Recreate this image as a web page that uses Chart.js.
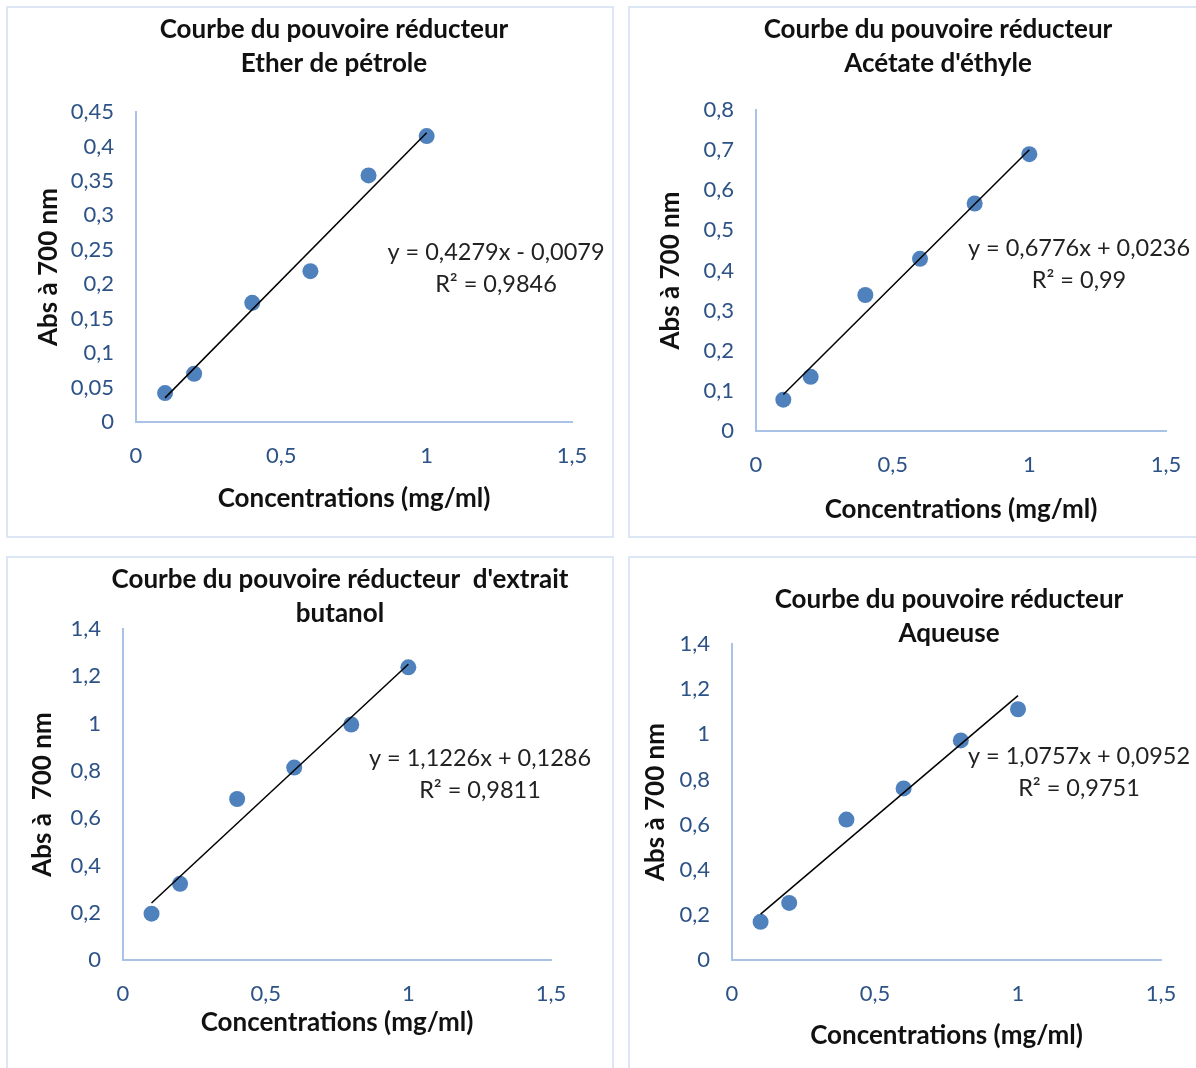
<!DOCTYPE html>
<html>
<head>
<meta charset="utf-8">
<script src="https://cdn.jsdelivr.net/npm/chart.js@4"></script>
<style>
    body { margin: 0; background: #fff; width: 1196px; height: 1068px; overflow: hidden; position: relative; }
    .panel { position: absolute; border: 2px solid #dce6f4; background: #fff; }
    .panel canvas { display: block; }
</style>
</head>
<body>
<div class="panel" style="left:6px;top:6px;width:604px;height:528px"><canvas id="c-ether" width="604" height="528"></canvas></div>
<div class="panel" style="left:628px;top:6px;width:576px;height:528px"><canvas id="c-acetate" width="576" height="528"></canvas></div>
<div class="panel" style="left:6px;top:556px;width:604px;height:512px"><canvas id="c-butanol" width="604" height="512"></canvas></div>
<div class="panel" style="left:628px;top:556px;width:576px;height:512px"><canvas id="c-aqueuse" width="576" height="512"></canvas></div>
<script>
// Concentrations (mg/ml), same for the four extracts
const concentrations = [0.1, 0.2, 0.4, 0.6, 0.8, 1.0];

// Absorbance at 700 nm
const absEther = [0.042, 0.070, 0.173, 0.219, 0.358, 0.415];
const absAcetate = [0.078, 0.135, 0.339, 0.429, 0.567, 0.690];
const absButanol = [0.196, 0.322, 0.681, 0.814, 0.996, 1.238];
const absAqueuse = [0.169, 0.253, 0.622, 0.760, 0.973, 1.111];

// Linear trend lines (ends at x = 0.1 and x = 1)
const trendX = [0.1, 1.0];
const trendEther = [0.035, 0.420];
const trendAcetate = [0.091, 0.701];
const trendButanol = [0.241, 1.251];
const trendAqueuse = [0.203, 1.171];

// Tick values and labels
const xTicks = [0, 0.5, 1, 1.5];
const xTickLabels = ['0', '0,5', '1', '1,5'];
const yTicksEther = [0, 0.05, 0.1, 0.15, 0.2, 0.25, 0.3, 0.35, 0.4, 0.45];
const yLabelsEther = ['0', '0,05', '0,1', '0,15', '0,2', '0,25', '0,3', '0,35', '0,4', '0,45'];
const yTicksAcetate = [0, 0.1, 0.2, 0.3, 0.4, 0.5, 0.6, 0.7, 0.8];
const yLabelsAcetate = ['0', '0,1', '0,2', '0,3', '0,4', '0,5', '0,6', '0,7', '0,8'];
const yTicksHigh = [0, 0.2, 0.4, 0.6, 0.8, 1, 1.2, 1.4];
const yLabelsHigh = ['0', '0,2', '0,4', '0,6', '0,8', '1', '1,2', '1,4'];

// Texts
const titleEther = ['Courbe du pouvoire réducteur', 'Ether de pétrole'];
const titleAcetate = ['Courbe du pouvoire réducteur', "Acétate d'éthyle"];
const titleButanol = ["Courbe du pouvoire réducteur  d'extrait", 'butanol'];
const titleAqueuse = ['Courbe du pouvoire réducteur', 'Aqueuse'];
const eqEther = ['y = 0,4279x - 0,0079', 'R² = 0,9846'];
const eqAcetate = ['y = 0,6776x + 0,0236', 'R² = 0,99'];
const eqButanol = ['y = 1,1226x + 0,1286', 'R² = 0,9811'];
const eqAqueuse = ['y = 1,0757x + 0,0952', 'R² = 0,9751'];

const FONT = 'Lato, "Open Sans", sans-serif';
const TICK_COLOR = '#2c5286';
const AXIS_COLOR = '#a9c3e6';
const POINT_COLOR = '#4f81bd';

// draws the two-line title and the trend equation
const panelText = {
    id: 'panelText',
    afterDraw(chart, args, opts) {
        const ctx = chart.ctx;
        ctx.save();
        ctx.textAlign = 'center';
        ctx.textBaseline = 'middle';
        ctx.fillStyle = '#111';
        ctx.font = `bold ${opts.titleSize}px ${FONT}`;
        opts.title.forEach((t, i) => ctx.fillText(t, opts.titleX, opts.titleY + i * 34));
        ctx.fillStyle = '#222';
        ctx.font = `${opts.eqSize}px ${FONT}`;
        opts.eq.forEach((t, i) => ctx.fillText(t, opts.eqX, opts.eqY + i * 32));
        ctx.restore();
    }
};

function makeChart(id, s) {
    const pts = concentrations.map((x, i) => ({ x, y: s.values[i] }));
    const line = trendX.map((x, i) => ({ x, y: s.trend[i] }));
    return new Chart(document.getElementById(id), {
        type: 'scatter',
        data: {
            datasets: [
                {
                    data: line, type: 'line', showLine: true, borderColor: '#000',
                    borderWidth: 1.5, pointRadius: 0, fill: false, order: 0
                },
                {
                    data: pts, pointRadius: 8, pointBackgroundColor: POINT_COLOR,
                    pointBorderColor: POINT_COLOR, pointBorderWidth: 0, order: 1
                }
            ]
        },
        options: {
            responsive: false,
            animation: false,
            layout: { padding: s.pad },
            plugins: {
                legend: { display: false },
                tooltip: { enabled: false },
                panelText: s.text
            },
            scales: {
                x: {
                    type: 'linear', min: 0, max: 1.5,
                    afterBuildTicks: sc => { sc.ticks = xTicks.map(v => ({ value: v })); },
                    afterFit: sc => { sc.height = s.xHeight; },
                    grid: { display: false, drawTicks: false },
                    border: { display: true, color: AXIS_COLOR, width: 2 },
                    ticks: {
                        padding: 21, color: TICK_COLOR, font: { family: FONT, size: 22 },
                        maxRotation: 0, callback: (v, i) => xTickLabels[i]
                    },
                    title: {
                        display: true, text: 'Concentrations (mg/ml)', color: '#111',
                        font: { family: FONT, size: 26, weight: 'bold' }
                    }
                },
                y: {
                    type: 'linear', min: 0, max: s.yTicks[s.yTicks.length - 1],
                    afterBuildTicks: sc => { sc.ticks = s.yTicks.map(v => ({ value: v })); },
                    afterFit: sc => { sc.width = s.yWidth; },
                    grid: { display: false, drawTicks: false },
                    border: { display: true, color: AXIS_COLOR, width: 2 },
                    ticks: {
                        padding: 22, color: TICK_COLOR, font: { family: FONT, size: 22 },
                        callback: (v, i) => s.yLabels[i]
                    },
                    title: {
                        display: true, text: s.yTitle, color: '#111',
                        font: { family: FONT, size: 26, weight: 'bold' }
                    }
                }
            }
        },
        plugins: [panelText]
    });
}

makeChart('c-ether', {
    values: absEther, trend: trendEther, yTicks: yTicksEther, yLabels: yLabelsEther,
    yTitle: 'Abs à 700 nm',
    pad: { left: 21, top: 104, right: 40, bottom: 18 }, yWidth: 107, xHeight: 96,
    text: { title: titleEther, titleX: 326, titleY: 22, titleSize: 26, eq: eqEther, eqX: 488, eqY: 244, eqSize: 23.5 }
});
makeChart('c-acetate', {
    values: absAcetate, trend: trendAcetate, yTicks: yTicksAcetate, yLabels: yLabelsAcetate,
    yTitle: 'Abs à 700 nm',
    pad: { left: 21, top: 102, right: 40, bottom: 7 }, yWidth: 105, xHeight: 98,
    text: { title: titleAcetate, titleX: 308, titleY: 22, titleSize: 26, eq: eqAcetate, eqX: 449, eqY: 240, eqSize: 23.5 }
});
makeChart('c-butanol', {
    values: absButanol, trend: trendButanol, yTicks: yTicksHigh, yLabels: yLabelsHigh,
    yTitle: 'Abs à  700 nm',
    pad: { left: 15, top: 71, right: 61, bottom: 28 }, yWidth: 100, xHeight: 82,
    text: { title: titleButanol, titleX: 332, titleY: 22, titleSize: 26, eq: eqButanol, eqX: 472, eqY: 200, eqSize: 23.5 }
});
makeChart('c-aqueuse', {
    values: absAqueuse, trend: trendAqueuse, yTicks: yTicksHigh, yLabels: yLabelsHigh,
    yTitle: 'Abs à 700 nm',
    pad: { left: 6, top: 86, right: 45, bottom: 15 }, yWidth: 96, xHeight: 95,
    text: { title: titleAqueuse, titleX: 319, titleY: 42, titleSize: 26, eq: eqAqueuse, eqX: 449, eqY: 198, eqSize: 23.5 }
});
</script>
</body>
</html>
